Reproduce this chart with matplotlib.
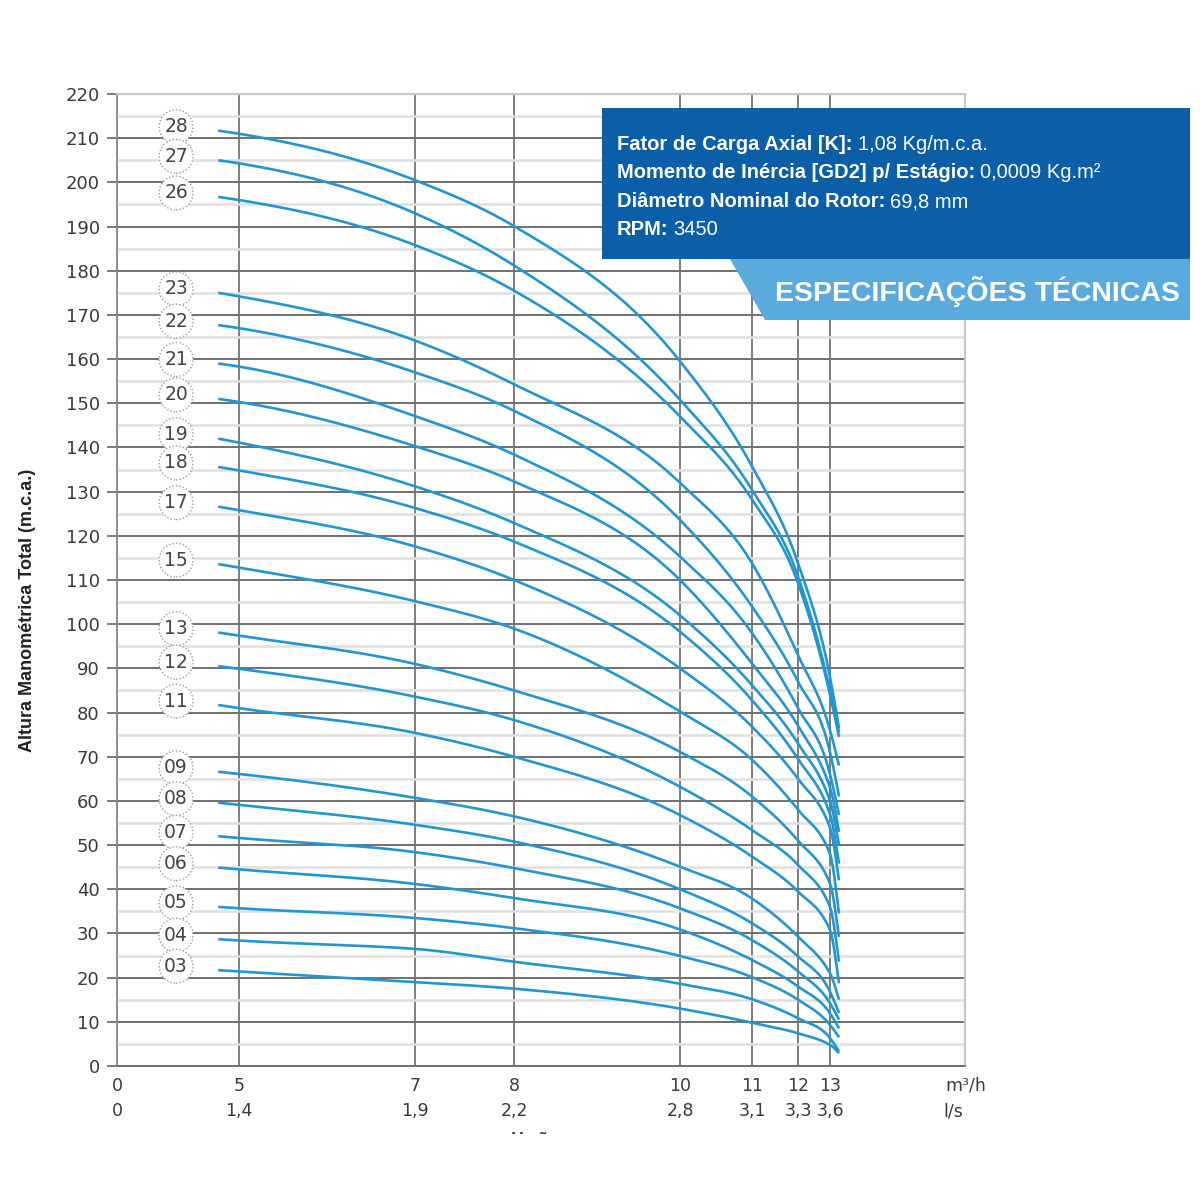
import numpy as np
import matplotlib
matplotlib.use('Agg')
import matplotlib.pyplot as plt
from matplotlib.patches import Rectangle, Polygon

# ---------------- data ----------------
FLOW = [4.15, 5, 7, 8, 10, 11, 12, 13, 13.3]          # m3/h
STAGES = ['28', '27', '26', '23', '22', '21', '20', '19', '18', '17', '15',
          '13', '12', '11', '09', '08', '07', '06', '05', '04', '03']
H_28 = [211.7, 211.0, 200.5, 190.1, 159.5, 135.7, 113.8, 88.0, 76.4]
H_27 = [205.0, 204.3, 193.0, 181.2, 150.8, 130.4, 110.8, 85.0, 75.5]
H_26 = [196.7, 196.0, 185.8, 175.5, 147.0, 128.2, 109.3, 84.0, 74.5]
H_23 = [175.0, 174.2, 164.2, 154.3, 132.0, 113.8, 93.0, 76.0, 68.0]
H_22 = [167.7, 167.0, 157.0, 148.3, 123.6, 104.0, 87.0, 71.0, 61.0]
H_21 = [159.0, 158.3, 147.1, 138.4, 115.3, 98.0, 81.0, 66.0, 56.8]
H_20 = [151.0, 150.3, 140.3, 132.3, 110.0, 91.1, 77.0, 63.0, 53.0]
H_19 = [142.0, 141.1, 131.2, 122.9, 102.0, 86.2, 73.0, 60.0, 50.0]
H_18 = [135.6, 134.8, 126.3, 118.7, 98.3, 82.8, 69.5, 57.0, 45.8]
H_17 = [126.6, 125.8, 117.6, 110.0, 90.0, 76.8, 65.0, 54.0, 42.0]
H_15 = [113.6, 112.8, 105.2, 99.0, 80.2, 69.3, 58.0, 48.0, 34.5]
H_13 = [98.1, 97.4, 91.0, 85.0, 71.1, 61.0, 51.0, 41.3, 29.2]
H_12 = [90.5, 89.9, 83.6, 78.3, 63.2, 53.4, 45.5, 36.0, 23.6]
H_11 = [81.7, 81.0, 75.4, 70.0, 56.8, 47.4, 39.5, 30.8, 18.7]
H_09 = [66.6, 66.1, 60.7, 56.5, 45.1, 37.9, 29.3, 21.0, 15.0]
H_08 = [59.6, 59.1, 54.6, 50.8, 40.0, 32.3, 24.8, 16.8, 12.0]
H_07 = [52.0, 51.6, 48.4, 44.8, 35.7, 28.5, 21.4, 14.2, 10.5]
H_06 = [44.9, 44.5, 41.2, 38.0, 30.9, 24.0, 18.0, 11.9, 8.5]
H_05 = [36.0, 35.7, 33.5, 31.2, 24.9, 20.1, 15.0, 9.3, 6.5]
H_04 = [28.7, 28.4, 26.5, 23.6, 18.6, 15.1, 10.8, 6.3, 3.3]
H_03 = [21.7, 21.4, 19.0, 17.5, 13.0, 9.8, 7.4, 4.8, 2.9]
HEADS = [H_28, H_27, H_26, H_23, H_22, H_21, H_20, H_19, H_18, H_17, H_15,
         H_13, H_12, H_11, H_09, H_08, H_07, H_06, H_05, H_04, H_03]

TICK_M3H = [0, 5, 7, 8, 10, 11, 12, 13]
TICK_M3H_LBL = ['0', '5', '7', '8', '10', '11', '12', '13']
TICK_LS_LBL = ['0', '1,4', '1,9', '2,2', '2,8', '3,1', '3,3', '3,6']

INFO_BOLD = ['Fator de Carga Axial [K]:', 'Momento de Inércia [GD2] p/ Estágio:',
             'Diâmetro Nominal do Rotor:', 'RPM:']
INFO_REG = ['1,08 Kg/m.c.a.', '0,0009 Kg.m²', '69,8 mm', '3450']
BANNER = 'ESPECIFICAÇÕES TÉCNICAS'

# ---------------- non-uniform flow scale of the chart ----------------
KQ = [0, 5, 7, 8, 10, 11, 12, 13, 14, 18]
KU = [0, 122, 298, 397, 563, 635, 681, 713, 743, 848]


def fwd(q):
    return np.interp(q, KQ, KU)


def inv(u):
    return np.interp(u, KU, KQ)


def smooth_curve(x, y, xs):
    """Hermite cubic through the read points (for drawing only).
    Three-point slopes where the curve bends gently, monotone (harmonic)
    slopes where it bends sharply."""
    x = np.asarray(x, float)
    y = np.asarray(y, float)
    h = np.diff(x)
    d = np.diff(y) / h
    n = len(x)
    m = np.zeros(n)
    for k in range(1, n - 1):
        if d[k - 1] * d[k] > 0:
            r = d[k] / d[k - 1]
            if 0.4 < r < 2.5:
                m[k] = (h[k] * d[k - 1] + h[k - 1] * d[k]) / (h[k - 1] + h[k])
            else:
                w1 = 2 * h[k] + h[k - 1]
                w2 = h[k] + 2 * h[k - 1]
                m[k] = (w1 + w2) / (w1 / d[k - 1] + w2 / d[k])
    m0 = 2 * d[0] - m[1]
    m[0] = m0 if (np.sign(m0) == np.sign(d[0]) and abs(m0) < 3 * abs(d[0])) else d[0]
    me = ((2 * h[-1] + h[-2]) * d[-1] - h[-1] * d[-2]) / (h[-1] + h[-2])
    m[-1] = me if (np.sign(me) == np.sign(d[-1]) and abs(me) < 3 * abs(d[-1])) else d[-1]
    idx = np.clip(np.searchsorted(x, xs) - 1, 0, n - 2)
    t = (xs - x[idx]) / h[idx]
    h00 = 2 * t**3 - 3 * t**2 + 1
    h10 = t**3 - 2 * t**2 + t
    h01 = -2 * t**3 + 3 * t**2
    h11 = t**3 - t**2
    return (h00 * y[idx] + h10 * h[idx] * m[idx] + h01 * y[idx + 1]
            + h11 * h[idx] * m[idx + 1])


plt.rcParams['font.family'] = ['DejaVu Sans']

fig = plt.figure(figsize=(12, 12), dpi=100)
fig.patch.set_facecolor('white')
ax = fig.add_axes([117 / 1200, 134 / 1200, 848 / 1200, 972 / 1200])
ax.set_xscale('function', functions=(fwd, inv))
ax.set_xlim(0, 18)
ax.set_ylim(0, 220)

# grid
ax.set_yticks(np.arange(0, 221, 10))
ax.set_yticks(np.arange(5, 220, 10), minor=True)
ax.set_xticks(TICK_M3H)
ax.set_xticklabels([])
ax.set_axisbelow(True)
ax.grid(which='major', axis='y', color='#707070', lw=1.4)
ax.grid(which='minor', axis='y', color='#e0e0e0', lw=1.8)
ax.grid(which='major', axis='x', color='#5a5a5a', lw=1.1)
ax.tick_params(axis='y', which='major', length=7.5, width=1.3, color='#707070',
               pad=5, labelsize=13, labelcolor='#3a3a3a')
ax.tick_params(axis='y', which='minor', length=0)
ax.tick_params(axis='x', which='major', length=0)
for s in ['top', 'right']:
    ax.spines[s].set_color('#c8c8c8')
    ax.spines[s].set_linewidth(1.6)
ax.spines['left'].set_color('#8a8a8a')
ax.spines['left'].set_linewidth(1.3)
ax.spines['bottom'].set_color('#707070')
ax.spines['bottom'].set_linewidth(1.4)

# x tick labels (two rows)
xt = ax.get_xaxis_transform()
for q, a, b in zip(TICK_M3H, TICK_M3H_LBL, TICK_LS_LBL):
    ax.annotate(a, xy=(q, 0), xycoords=xt, xytext=(0, -20), textcoords='offset pixels',
                ha='center', va='center', fontsize=12.5, color='#3a3a3a',
                annotation_clip=False)
    ax.annotate(b, xy=(q, 0), xycoords=xt, xytext=(0, -45), textcoords='offset pixels',
                ha='center', va='center', fontsize=12.5, color='#3a3a3a',
                annotation_clip=False)
ax.annotate('m³/h', xy=(1, 0), xycoords='axes fraction', xytext=(1, -20),
            textcoords='offset pixels', ha='center', va='center', fontsize=12.5,
            color='#3a3a3a', annotation_clip=False)
ax.annotate('l/s', xy=(1, 0), xycoords='axes fraction', xytext=(-12, -45),
            textcoords='offset pixels', ha='center', va='center', fontsize=12.5,
            color='#3a3a3a', annotation_clip=False)

# curves
u = fwd(np.array(FLOW))
us = np.linspace(u[0], u[-1], 600)
for name, h in zip(STAGES, HEADS):
    vs = smooth_curve(u, h, us)
    ax.plot(inv(us), vs, color='#2196d3', lw=1.9, solid_capstyle='butt', zorder=3)
    ax.text(2.42, h[0] + 0.9, name, ha='center', va='center', fontsize=13.5,
            color='#444444', zorder=4,
            bbox=dict(boxstyle='circle,pad=0.27', fc='white', ec='#9a9a9a',
                      ls=(0, (1, 1.5)), lw=1.0))

# overlay for decorations (pixel coordinates)
ov = fig.add_axes([0, 0, 1, 1], zorder=5)
ov.set_xlim(0, 1200)
ov.set_ylim(1200, 0)
ov.axis('off')
ov.patch.set_alpha(0)

ov.text(28, 610, 'Altura Manométrica Total (m.c.a.)', rotation=90, ha='center',
        va='center', fontsize=13, fontweight='bold', color='#222222',
        family=['Liberation Sans', 'DejaVu Sans'])
ov.text(535, 1139, 'Vazão', ha='center', va='center', fontsize=12,
        fontweight='bold', color='#333333', family=['Liberation Sans', 'DejaVu Sans'])
ov.add_patch(Rectangle((0, 1134), 1200, 66, fc='white', ec='none', zorder=10))

ov.add_patch(Rectangle((602, 108), 588, 151, fc='#0b5ea8', ec='none', zorder=6))
ov.add_patch(Polygon([(730, 259), (1190, 259), (1190, 320), (765, 320)], closed=True,
                     fc='#5aaade', ec='none', zorder=6))
sans = ['Liberation Sans', 'DejaVu Sans']
baselines = [150, 178, 207, 235]
for yb, tb, tr in zip(baselines, INFO_BOLD, INFO_REG):
    t = ov.text(617, yb, tb, ha='left', va='baseline', fontsize=14.5, fontweight='bold',
                color='white', family=sans, zorder=7)
    ov.annotate(tr, xy=(1, 0), xycoords=t, xytext=(5, 0), textcoords='offset pixels',
                ha='left', va='bottom', fontsize=14.5, color='white', family=sans,
                zorder=7)
ov.text(977, 301, BANNER, ha='center', va='baseline', fontsize=20.5, fontweight='bold',
        color='white', family=sans, zorder=7)

fig.savefig('out.png', dpi=100, facecolor='white')
